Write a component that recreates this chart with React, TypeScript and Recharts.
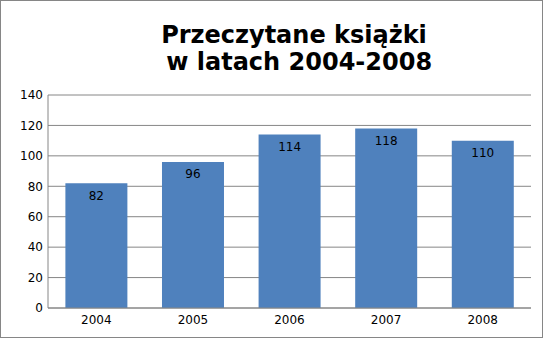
import React from "react";
import { BarChart, Bar, XAxis, YAxis, CartesianGrid, LabelList } from "recharts";

const years = ["2004", "2005", "2006", "2007", "2008"];
const books = [82, 96, 114, 118, 110];
const yTicks = [0, 20, 40, 60, 80, 100, 120, 140];
const titleLines = ["Przeczytane książki", " w latach 2004-2008"];

const data = years.map((year, i) => ({ year, books: books[i] }));

const FONT = "'DejaVu Sans', Verdana, sans-serif";
const GRAY = "#868686";

export default function App() {
  return (
    <div
      style={{
        position: "absolute",
        left: 0,
        top: 0,
        width: 543,
        height: 338,
        background: "#fff",
        fontFamily: FONT,
      }}
    >
      <BarChart
        width={543}
        height={338}
        data={data}
        margin={{ top: 95, right: 12, bottom: 0, left: 0 }}
        barCategoryGap="18%"
      >
        <CartesianGrid vertical={false} stroke={GRAY} strokeDasharray="" />
        <XAxis
          dataKey="year"
          height={30}
          axisLine={{ stroke: GRAY }}
          tickLine={false}
          tick={{ fill: "#000", fontSize: 12, fontFamily: FONT }}
          tickMargin={1}
        />
        <YAxis
          width={48}
          domain={[0, 140]}
          ticks={yTicks}
          axisLine={{ stroke: GRAY }}
          tickLine={false}
          tickSize={3}
          tickMargin={2}
          tick={{ fill: "#000", fontSize: 12, fontFamily: FONT }}
          interval={0}
        />
        <Bar dataKey="books" fill="#4F81BD" isAnimationActive={false}>
          <LabelList
            dataKey="books"
            position="insideTop"
            offset={8}
            fill="#000"
            fontSize={12}
            fontFamily={FONT}
          />
        </Bar>
      </BarChart>
      <svg
        width={543}
        height={338}
        style={{ position: "absolute", left: 0, top: 0, pointerEvents: "none" }}
      >
        <rect x={0.5} y={0.5} width={542} height={337} fill="none" stroke={GRAY} />
        <text
          x={294}
          y={43}
          textAnchor="middle"
          fontFamily={FONT}
          fontWeight="bold"
          fontSize={24}
          fill="#000"
        >
          {titleLines[0]}
        </text>
        <text
          x={295}
          y={70}
          textAnchor="middle"
          fontFamily={FONT}
          fontWeight="bold"
          fontSize={24}
          fill="#000"
          style={{ whiteSpace: "pre" }}
        >
          {titleLines[1]}
        </text>
      </svg>
    </div>
  );
}
